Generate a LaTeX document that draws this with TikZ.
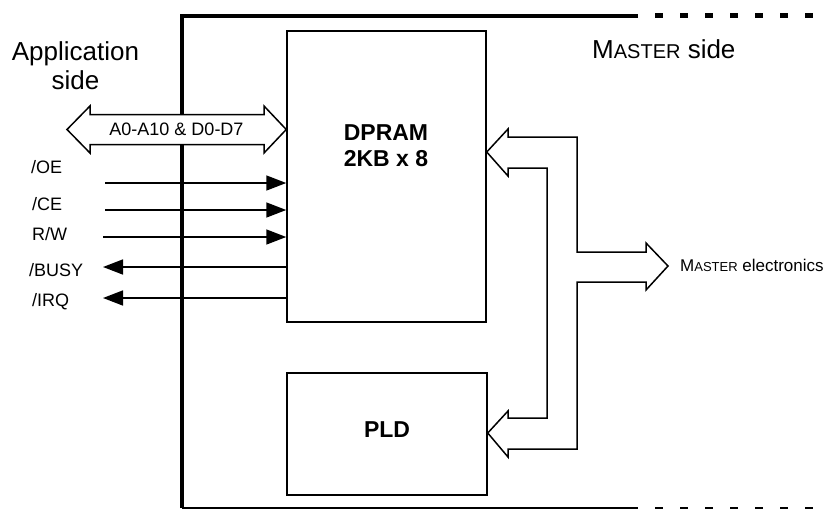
\documentclass[tikz,border=0pt]{standalone}
\usepackage{fontspec}
\setmainfont{Liberation Sans}
\usetikzlibrary{arrows.meta, positioning, calc}

\newcommand{\master}[1]{M{\fontsize{#1}{#1}\selectfont ASTER}}

\begin{document}
\begin{tikzpicture}[x=1pt, y=-1pt,
        box/.style={draw, line width=1.5pt, inner sep=0pt},
        bus/.style={draw, line width=1.5pt, fill=white, line join=miter},
        sig/.style={line width=1.6pt},
        tip/.style={-{Triangle[length=20pt, width=15pt]}},
        lbl/.style={font=\fontsize{18}{20}\selectfont, anchor=west, inner sep=0pt}]
        \useasboundingbox (0,0) rectangle (839,509);

        % frame between the two sides
        \draw[line width=4pt] (638,15.5) -- (181.5,15.5) -- (181.5,508);
        \draw[line width=2pt] (181.5,508) -- (638,508);
        \draw[line width=4.5pt, dash pattern=on 8pt off 17pt] (655,15.5) -- (815,15.5);
        \draw[line width=2pt, dash pattern=on 8pt off 17pt] (655,508) -- (815,508);

        \node[font=\fontsize{26}{29}\selectfont, align=center, anchor=north, inner sep=0pt] (app) at (75.5,41) {Application\\side};
        \node[font=\fontsize{26}{29}\selectfont, anchor=base west, inner sep=0pt] (mside) at (592,58) {\master{20} side};

        % blocks
        \node[box, minimum width=199pt, minimum height=291pt] (dpram) at (386.5,176.5) {};
        \node[box, minimum width=200pt, minimum height=122pt] (pld) at (387,434) {};
        \node[font=\fontsize{23}{26.5}\selectfont\bfseries, align=center, anchor=north, inner sep=0pt] (dpramtxt) at (386,124) {DPRAM\\2KB x 8};
        \node[font=\fontsize{23}{26}\selectfont\bfseries] (pldtxt) at ($(pld)+(0,-4)$) {PLD};

        % application bus
        \coordinate (ltip) at (67,129.5);
        \coordinate (rtip) at (dpram.west |- 0,129.5);
        \draw[bus] (ltip) -- (90,106) -- (90,114.5) -- (264,114.5) -- (264,106) -- (rtip)
            -- (264,153) -- (264,144.5) -- (90,144.5) -- (90,153) -- cycle;
        \node[font=\fontsize{18}{20}\selectfont, inner sep=0pt] (abus) at (176.5,129.5) {A0-A10 \& D0-D7};

        % control lines
        \node[lbl] (oe) at (31,167) {/OE};
        \node[lbl] (ce) at (32,204) {/CE};
        \node[lbl] (rw) at (32,234) {R/W};
        \node[lbl] (busy) at (29,270) {/BUSY};
        \node[lbl] (irq) at (32,302) {/IRQ};
        \coordinate (oe-in) at (105,183);
        \coordinate (ce-in) at (105,210);
        \coordinate (rw-in) at (103,237);
        \coordinate (busy-out) at (103,267);
        \coordinate (irq-out) at (103,298);
        \draw[sig, tip] (oe-in) -- (dpram.west |- oe-in);
        \draw[sig, tip] (ce-in) -- (dpram.west |- ce-in);
        \draw[sig, tip] (rw-in) -- (dpram.west |- rw-in);
        \draw[sig, tip] (dpram.west |- busy-out) -- (busy-out);
        \draw[sig, tip] (dpram.west |- irq-out) -- (irq-out);

        % master bus
        \node[font=\fontsize{17}{19}\selectfont, anchor=base west, inner sep=0pt] (mel) at (680,271) {\master{13} electronics};
        \coordinate (dtip) at (dpram.east |- 0,152);
        \coordinate (ptip) at (pld.east |- 0,433);
        \coordinate (etip) at (668,266);
        \draw[bus] (dtip) -- (508,129) -- (508,137) -- (577,137) -- (577,252) -- (646,252)
            -- (646,243) -- (etip) -- (646,290) -- (646,282) -- (577,282) -- (577,449)
            -- (508,449) -- (508,457) -- (ptip) -- (508,411) -- (508,418) -- (547,418)
            -- (547,168) -- (508,168) -- (508,176) -- cycle;

    \end{tikzpicture}
\end{document}
